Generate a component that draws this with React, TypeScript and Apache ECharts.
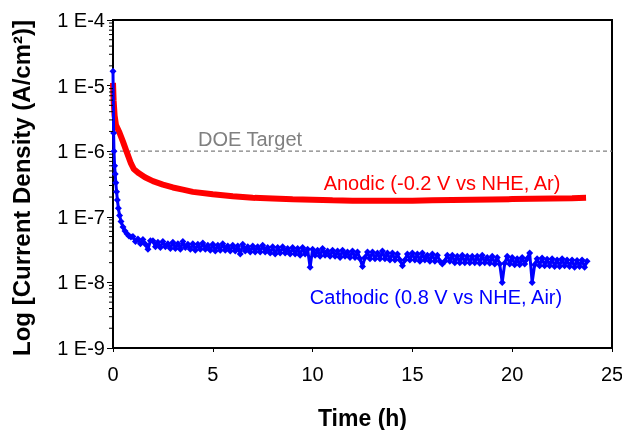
import React, { useEffect, useRef } from 'react';
import * as echarts from 'echarts';

const FONT = 'Liberation Sans, Arial, sans-serif';

// Anodic (-0.2 V vs NHE, Ar): time (h) and current density (A/cm2)
const anodicTime = [0, 0.03, 0.08, 0.15, 0.3, 0.5, 0.7, 0.9, 1.05, 1.3, 1.6, 2.0, 2.5, 3.0, 3.5, 4.0, 5.0, 6.0, 7.0, 8.0, 9.0, 10.0, 11.0, 12.0, 13.0, 14.0, 15.0, 16.0, 17.0, 18.0, 19.0, 20.0, 21.0, 22.0, 23.0, 23.7];
const anodicValue = [1.1e-5, 6e-6, 3.5e-6, 2.5e-6, 2.0e-6, 1.4e-6, 9.5e-7, 6.5e-7, 5.3e-7, 4.6e-7, 4.0e-7, 3.5e-7, 3.1e-7, 2.8e-7, 2.6e-7, 2.4e-7, 2.2e-7, 2.05e-7, 1.95e-7, 1.9e-7, 1.85e-7, 1.82e-7, 1.78e-7, 1.76e-7, 1.75e-7, 1.75e-7, 1.76e-7, 1.78e-7, 1.8e-7, 1.82e-7, 1.84e-7, 1.86e-7, 1.88e-7, 1.9e-7, 1.92e-7, 1.95e-7];

// Cathodic (0.8 V vs NHE, Air): time (h)
const cathodicTime = [
  0, 0.03, 0.05, 0.08, 0.11, 0.14, 0.18, 0.22, 0.27, 0.33, 0.4, 0.5, 0.6, 0.7, 0.8, 0.9,
  1.0, 1.125, 1.25, 1.375, 1.5, 1.625, 1.75, 1.875,
  2.0, 2.125, 2.25, 2.375, 2.5, 2.625, 2.75, 2.875,
  3.0, 3.125, 3.25, 3.375, 3.5, 3.625, 3.75, 3.875,
  4.0, 4.125, 4.25, 4.375, 4.5, 4.625, 4.75, 4.875,
  5.0, 5.125, 5.25, 5.375, 5.5, 5.625, 5.75, 5.875,
  6.0, 6.125, 6.25, 6.375, 6.5, 6.625, 6.75, 6.875,
  7.0, 7.125, 7.25, 7.375, 7.5, 7.625, 7.75, 7.875,
  8.0, 8.125, 8.25, 8.375, 8.5, 8.625, 8.75, 8.875,
  9.0, 9.125, 9.25, 9.375, 9.5, 9.625, 9.75, 9.875,
  10.0, 10.125, 10.25, 10.375, 10.5, 10.625, 10.75, 10.875,
  11.0, 11.125, 11.25, 11.375, 11.5, 11.625, 11.75, 11.875,
  12.0, 12.125, 12.25, 12.375, 12.5, 12.625, 12.75, 12.875,
  13.0, 13.125, 13.25, 13.375, 13.5, 13.625, 13.75, 13.875,
  14.0, 14.125, 14.25, 14.375, 14.5, 14.625, 14.75, 14.875,
  15.0, 15.125, 15.25, 15.375, 15.5, 15.625, 15.75, 15.875,
  16.0, 16.125, 16.25, 16.375, 16.5, 16.625, 16.75, 16.875,
  17.0, 17.125, 17.25, 17.375, 17.5, 17.625, 17.75, 17.875,
  18.0, 18.125, 18.25, 18.375, 18.5, 18.625, 18.75, 18.875,
  19.0, 19.125, 19.25, 19.375, 19.5, 19.625, 19.75, 19.875,
  20.0, 20.125, 20.25, 20.375, 20.5, 20.625, 20.75, 20.875,
  21.0, 21.125, 21.25, 21.375, 21.5, 21.625, 21.75, 21.875,
  22.0, 22.125, 22.25, 22.375, 22.5, 22.625, 22.75, 22.875,
  23.0, 23.125, 23.25, 23.375, 23.5, 23.625, 23.75,
];
// Cathodic current density (A/cm2)
const cathodicValue = [
  1.66e-5, 1.9e-6, 1.0e-6, 6e-7, 4.5e-7, 3.3e-7, 2.4e-7, 1.8e-7, 1.35e-7, 1.05e-7, 8.5e-8, 7e-8, 6.1e-8, 5.5e-8, 5.1e-8, 4.9e-8,
  5.0e-8, 4.2e-8, 4.6e-8, 3.9e-8, 4.5e-8, 3.8e-8, 3.2e-8, 4.3e-8,
  4.3e-8, 3.5e-8, 4.1e-8, 3.4e-8, 4.2e-8, 3.5e-8, 3.9e-8, 3.3e-8,
  4.1e-8, 3.3e-8, 3.9e-8, 3.2e-8, 4.2e-8, 3.4e-8, 3.8e-8, 3.2e-8,
  3.9e-8, 3.1e-8, 3.8e-8, 3.2e-8, 4.0e-8, 3.2e-8, 3.7e-8, 3.1e-8,
  3.8e-8, 3.0e-8, 3.7e-8, 3.1e-8, 3.9e-8, 3.1e-8, 3.6e-8, 3.0e-8,
  3.7e-8, 3.0e-8, 3.6e-8, 2.7e-8, 3.8e-8, 3.0e-8, 3.5e-8, 2.9e-8,
  3.6e-8, 2.9e-8, 3.5e-8, 2.9e-8, 3.7e-8, 2.9e-8, 3.4e-8, 2.8e-8,
  3.5e-8, 2.7e-8, 3.4e-8, 2.8e-8, 3.5e-8, 2.8e-8, 3.3e-8, 2.7e-8,
  3.4e-8, 2.7e-8, 3.3e-8, 2.6e-8, 3.4e-8, 2.7e-8, 3.2e-8, 1.7e-8,
  3.2e-8, 2.6e-8, 3.1e-8, 2.5e-8, 3.3e-8, 2.6e-8, 3.0e-8, 2.5e-8,
  3.1e-8, 2.5e-8, 3.0e-8, 2.4e-8, 3.1e-8, 2.5e-8, 2.9e-8, 2.4e-8,
  3.0e-8, 2.4e-8, 2.9e-8, 2.3e-8, 1.75e-8, 2.4e-8, 2.9e-8, 2.3e-8,
  2.9e-8, 2.3e-8, 2.8e-8, 2.3e-8, 3.0e-8, 2.3e-8, 2.8e-8, 2.2e-8,
  2.8e-8, 2.2e-8, 2.7e-8, 2.2e-8, 1.8e-8, 2.2e-8, 2.7e-8, 2.2e-8,
  2.8e-8, 2.2e-8, 2.7e-8, 2.1e-8, 2.8e-8, 2.2e-8, 2.6e-8, 2.1e-8,
  2.7e-8, 2.1e-8, 2.6e-8, 2.1e-8, 1.9e-8, 2.1e-8, 2.6e-8, 2.1e-8,
  2.6e-8, 2.0e-8, 2.5e-8, 2.0e-8, 2.6e-8, 2.0e-8, 2.5e-8, 2.0e-8,
  2.5e-8, 2.0e-8, 2.5e-8, 1.95e-8, 2.6e-8, 2.0e-8, 2.4e-8, 1.95e-8,
  2.5e-8, 1.9e-8, 2.4e-8, 1.9e-8, 1.0e-8, 1.95e-8, 2.5e-8, 1.9e-8,
  2.4e-8, 1.85e-8, 2.3e-8, 1.85e-8, 2.4e-8, 1.9e-8, 2.3e-8, 2.8e-8,
  1.0e-8, 1.85e-8, 2.3e-8, 1.8e-8, 2.35e-8, 1.8e-8, 2.25e-8, 1.8e-8,
  2.3e-8, 1.75e-8, 2.2e-8, 1.75e-8, 2.3e-8, 1.8e-8, 2.2e-8, 1.75e-8,
  2.2e-8, 1.7e-8, 2.15e-8, 1.75e-8, 2.2e-8, 1.7e-8, 2.1e-8,
];

const doeTarget = 1e-6;
const doeSpan = [0, 25];
const minorDecades = [-9, -8, -7, -6, -5];
const minorFactors = [2, 3, 4, 5, 6, 7, 8, 9];

export default function App() {
  const ref = useRef<HTMLDivElement>(null);
  useEffect(() => {
    const chart = echarts.init(ref.current!, null, { renderer: 'svg' });
    const minorTicks: number[][] = [];
    minorDecades.forEach((d) => minorFactors.forEach((f) => minorTicks.push([0, f * Math.pow(10, d)])));
    chart.setOption({
      animation: false,
      grid: {
        left: 113, right: 10, top: 20, bottom: 82,
        show: true, borderColor: '#000', borderWidth: 2,
        outerBoundsMode: 'none',
      },
      xAxis: {
        type: 'value', min: 0, max: 25, interval: 5,
        axisLine: { lineStyle: { color: '#000', width: 2 } },
        axisTick: { inside: false, length: 4, lineStyle: { color: '#000', width: 1 } },
        axisLabel: { fontSize: 20, color: '#000', fontFamily: FONT, margin: 16 },
        splitLine: { show: false },
        name: 'Time (h)', nameLocation: 'middle', nameGap: 58,
        nameTextStyle: { fontSize: 23, fontWeight: 'bold', fontFamily: FONT, color: '#000' },
      },
      yAxis: {
        type: 'log', logBase: 10, min: 1e-9, max: 1e-4,
        axisLine: { show: true, lineStyle: { color: '#000', width: 2 } },
        axisTick: { show: true, inside: false, length: 6, lineStyle: { color: '#000', width: 1 } },
        axisLabel: {
          fontSize: 20, color: '#000', fontFamily: FONT, margin: 8,
          formatter: (v: number) => '1 E' + Math.round(Math.log10(v)),
        },
        splitLine: { show: false },
        name: 'Log [Current Density (A/cm²)]', nameLocation: 'middle', nameGap: 80,
        nameTextStyle: { fontSize: 24, fontWeight: 'bold', fontFamily: FONT, color: '#000', padding: [0, 8, 0, 0] },
      },
      series: [
        {
          type: 'line',
          data: doeSpan.map((t) => [t, doeTarget]),
          showSymbol: false,
          silent: true,
          lineStyle: { type: [4, 3], color: '#808080', width: 1.2 },
          z: 1,
        },
        {
          type: 'line',
          data: anodicTime.map((t, i) => [t, anodicValue[i]]),
          showSymbol: false,
          lineStyle: { color: '#ff0000', width: 6 },
          itemStyle: { color: '#ff0000' },
          z: 2,
        },
        {
          type: 'line',
          data: cathodicTime.map((t, i) => [t, cathodicValue[i]]),
          symbol: 'diamond',
          symbolSize: 7,
          showAllSymbol: true,
          lineStyle: { color: '#0000ff', width: 3 },
          itemStyle: { color: '#0000ff' },
          z: 3,
        },
        {
          type: 'custom',
          clip: false,
          silent: true,
          data: minorTicks,
          renderItem: (params: any, api: any) => {
            const p = api.coord([api.value(0), api.value(1)]);
            return {
              type: 'line',
              shape: { x1: p[0] - 4, y1: p[1], x2: p[0], y2: p[1] },
              style: { stroke: '#000', lineWidth: 1 },
            };
          },
          z: 4,
        },
      ],
      graphic: [
        { type: 'text', x: 250, y: 139, style: { text: 'DOE Target', fill: '#808080', font: `20px ${FONT}`, textAlign: 'center', textVerticalAlign: 'middle' } },
        { type: 'text', x: 442, y: 183, style: { text: 'Anodic (-0.2 V vs NHE, Ar)', fill: '#ff0000', font: `20px ${FONT}`, textAlign: 'center', textVerticalAlign: 'middle' } },
        { type: 'text', x: 436, y: 297, style: { text: 'Cathodic (0.8 V vs NHE, Air)', fill: '#0000ff', font: `20px ${FONT}`, textAlign: 'center', textVerticalAlign: 'middle' } },
      ],
    });
    return () => chart.dispose();
  }, []);
  return <div ref={ref} style={{ position: 'fixed', left: 0, top: 0, width: 622, height: 430 }} />;
}
